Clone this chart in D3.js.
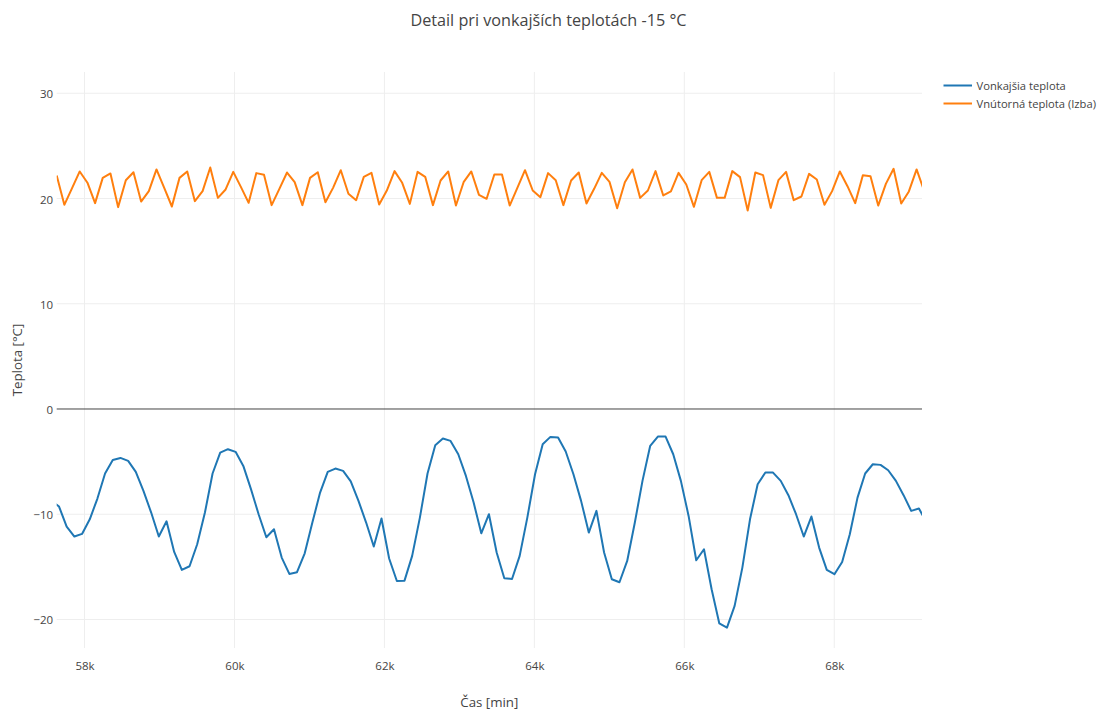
<!DOCTYPE html>
<html><head><meta charset="utf-8">
<script src="https://cdn.jsdelivr.net/npm/d3@7"></script>
<style>body{margin:0;background:#fff}svg{display:block}</style>
</head><body>
<svg id="c" width="1101" height="712"></svg>
<script>
const chartTitle = "Detail pri vonkajších teplotách -15 °C";
const xTitle = "Čas [min]";
const yTitle = "Teplota [°C]";
const seriesNames = ["Vonkajšia teplota", "Vnútorná teplota (Izba)"];
const xTicks = [58000, 60000, 62000, 64000, 66000, 68000];
const yTicks = [-20, -10, 0, 10, 20, 30];
const xRange = [57629, 69170];
const yRange = [-22.71, 32.02];

// Inner (room) temperature sample times [min]
const timeInside = [
57629,57731,57834,57936,58039,58141,58243,58346,58448,58551,
58653,58755,58858,58960,59063,59165,59267,59370,59472,59575,
59677,59779,59882,59984,60087,60189,60291,60394,60496,60599,
60701,60803,60906,61008,61111,61213,61315,61418,61520,61623,
61725,61827,61930,62032,62135,62237,62339,62442,62544,62647,
62749,62851,62954,63056,63159,63261,63363,63466,63568,63671,
63773,63875,63978,64080,64183,64285,64387,64490,64592,64695,
64797,64899,65002,65104,65207,65309,65411,65514,65616,65719,
65821,65923,66026,66128,66231,66333,66435,66538,66640,66743,
66845,66947,67050,67152,67255,67357,67459,67562,67664,67767,
67869,67971,68074,68176,68279,68381,68483,68586,68688,68791,
68893,68995,69098,69200];
const tempInside = [
22.19,19.40,20.98,22.57,21.50,19.56,21.96,22.38,19.18,21.74,
22.50,19.71,20.70,22.76,21.00,19.24,21.96,22.57,19.75,20.70,
22.95,20.06,20.86,22.53,21.08,19.59,22.41,22.25,19.37,20.92,
22.47,21.55,19.37,21.96,22.50,19.65,21.01,22.69,20.45,19.84,
22.06,22.44,19.43,20.76,22.60,21.49,19.49,22.53,22.06,19.37,
21.71,22.57,19.33,21.55,22.57,20.35,19.97,22.28,22.28,19.33,
21.01,22.69,20.76,20.13,22.41,21.74,19.37,21.71,22.47,19.52,
20.92,22.44,21.58,19.08,21.55,22.76,20.06,20.76,22.60,20.29,
20.67,22.44,21.33,19.21,21.74,22.53,20.06,20.06,22.60,22.03,
18.86,22.47,22.22,19.11,21.74,22.53,19.84,20.19,22.34,21.81,
19.40,20.70,22.57,21.17,19.56,22.22,22.12,19.33,21.39,22.82,
19.52,20.67,22.76,20.70];

// Outside temperature sample times [min]
const timeOutside = [
57558,
57660,57762,57865,57967,58070,58172,58274,58377,58479,58582,
58684,58786,58889,58991,59094,59196,59298,59401,59503,59606,
59708,59810,59913,60015,60118,60220,60322,60425,60527,60630,
60732,60834,60937,61039,61142,61244,61346,61449,61551,61654,
61756,61858,61961,62063,62166,62268,62370,62473,62575,62678,
62780,62882,62985,63087,63190,63292,63394,63497,63599,63702,
63804,63906,64009,64111,64214,64316,64418,64521,64623,64726,
64828,64930,65033,65135,65238,65340,65442,65545,65647,65750,
65852,65954,66057,66159,66262,66364,66466,66569,66671,66774,
66876,66978,67081,67183,67286,67388,67490,67593,67695,67798,
67900,68002,68105,68207,68310,68412,68514,68617,68719,68822,
68924,69026,69129,69231];
const tempOutside = [
-8.70,
-9.27,-11.17,-12.12,-11.87,-10.48,-8.51,-6.13,-4.84,-4.65,-4.93,
-5.98,-7.78,-9.84,-12.12,-10.67,-13.58,-15.29,-14.94,-12.85,-9.84,
-6.13,-4.14,-3.82,-4.07,-5.41,-7.62,-10.00,-12.19,-11.43,-14.12,
-15.67,-15.51,-13.71,-10.79,-7.94,-5.98,-5.66,-5.88,-6.88,-8.73,
-10.79,-13.07,-10.41,-14.21,-16.34,-16.31,-13.96,-10.32,-6.13,-3.44,
-2.81,-3.03,-4.30,-6.36,-8.89,-11.81,-10.00,-13.64,-16.08,-16.15,
-13.96,-10.32,-6.20,-3.35,-2.65,-2.71,-4.04,-6.20,-8.73,-11.74,
-9.68,-13.64,-16.18,-16.46,-14.44,-10.79,-6.83,-3.50,-2.62,-2.62,
-4.30,-6.83,-10.16,-14.37,-13.33,-17.13,-20.36,-20.77,-18.71,-15.07,
-10.48,-7.15,-6.04,-6.04,-6.83,-8.19,-10.00,-12.12,-10.22,-13.17,
-15.29,-15.70,-14.53,-11.90,-8.42,-6.13,-5.25,-5.31,-5.82,-6.83,
-8.19,-9.68,-9.46,-10.80];

const colors = ["#1f77b4", "#ff7f0e"];
const font = "'Open Sans', verdana, arial, sans-serif";

const svg = d3.select("#c");
const L = 56.7, R = 922, T = 72, B = 648;
const x = d3.scaleLinear().domain(xRange).range([L, R]);
const y = d3.scaleLinear().domain(yRange).range([B, T]);

svg.append("rect").attr("width", 1101).attr("height", 712).attr("fill", "#fff");

// gridlines
const grid = svg.append("g");
grid.selectAll("line.xg").data(xTicks).enter().append("line")
  .attr("x1", d => x(d)).attr("x2", d => x(d)).attr("y1", T).attr("y2", B)
  .attr("stroke", "#eee").attr("stroke-width", 1);
grid.selectAll("line.yg").data(yTicks.filter(d => d !== 0)).enter().append("line")
  .attr("x1", L).attr("x2", R).attr("y1", d => y(d)).attr("y2", d => y(d))
  .attr("stroke", "#eee").attr("stroke-width", 1);
// zero line
grid.append("line").attr("x1", L).attr("x2", R).attr("y1", y(0)).attr("y2", y(0))
  .attr("stroke", "#444").attr("stroke-width", 1);

// axes (labels only)
const xAxis = d3.axisBottom(x).tickValues(xTicks).tickFormat(d3.format("~s")).tickSize(0).tickPadding(0);
const gx = svg.append("g").attr("transform", `translate(0,${B})`).call(xAxis);
gx.select(".domain").remove();
gx.selectAll("text").attr("dy", null).attr("y", 17).attr("dominant-baseline", "central")
  .style("font-family", font).style("font-size", "11.5px").attr("fill", "#444");

const yAxis = d3.axisLeft(y).tickValues(yTicks).tickFormat(d3.format("d")).tickSize(0).tickPadding(0);
const gy = svg.append("g").attr("transform", `translate(${L - 3.5},0)`).call(yAxis);
gy.select(".domain").remove();
gy.selectAll("text").attr("dy", null).attr("x", 0).attr("dominant-baseline", "central")
  .style("font-family", font).style("font-size", "11.5px").attr("fill", "#444");

// lines
svg.append("defs").append("clipPath").attr("id", "clip")
  .append("rect").attr("x", L).attr("y", T).attr("width", R - L).attr("height", B - T);
const plot = svg.append("g").attr("clip-path", "url(#clip)");
const line = d3.line().x(d => x(d[0])).y(d => y(d[1]));
const outsideData = timeOutside.map((t, i) => [t, tempOutside[i]]);
const insideData = timeInside.map((t, i) => [t, tempInside[i]]);
plot.append("path").datum(outsideData).attr("d", line).attr("fill", "none")
  .attr("stroke", colors[0]).attr("stroke-width", 2).attr("stroke-linejoin", "round");
plot.append("path").datum(insideData).attr("d", line).attr("fill", "none")
  .attr("stroke", colors[1]).attr("stroke-width", 2).attr("stroke-linejoin", "round");

// titles
svg.append("text").attr("x", 548.5).attr("y", 20).attr("text-anchor", "middle")
  .attr("dominant-baseline", "central").style("font-family", font).style("font-size", "16.2px")
  .attr("fill", "#444").text(chartTitle);
svg.append("text").attr("x", (L + R) / 2).attr("y", 702).attr("text-anchor", "middle")
  .attr("dominant-baseline", "central").style("font-family", font).style("font-size", "13.3px")
  .attr("fill", "#444").text(xTitle);
svg.append("text").attr("transform", `translate(17,${(T + B) / 2}) rotate(-90)`)
  .attr("text-anchor", "middle").attr("dominant-baseline", "central")
  .style("font-family", font).style("font-size", "13.3px").attr("fill", "#444").text(yTitle);

// legend
const leg = svg.append("g");
seriesNames.forEach((name, i) => {
  const ly = 85.5 + i * 18;
  leg.append("line").attr("x1", 943.5).attr("x2", 972).attr("y1", ly).attr("y2", ly)
    .attr("stroke", colors[i]).attr("stroke-width", 2);
  leg.append("text").attr("x", 976.5).attr("y", ly).attr("dominant-baseline", "central")
    .style("font-family", font).style("font-size", "11.2px").attr("fill", "#444").text(name);
});
</script>
</body></html>
